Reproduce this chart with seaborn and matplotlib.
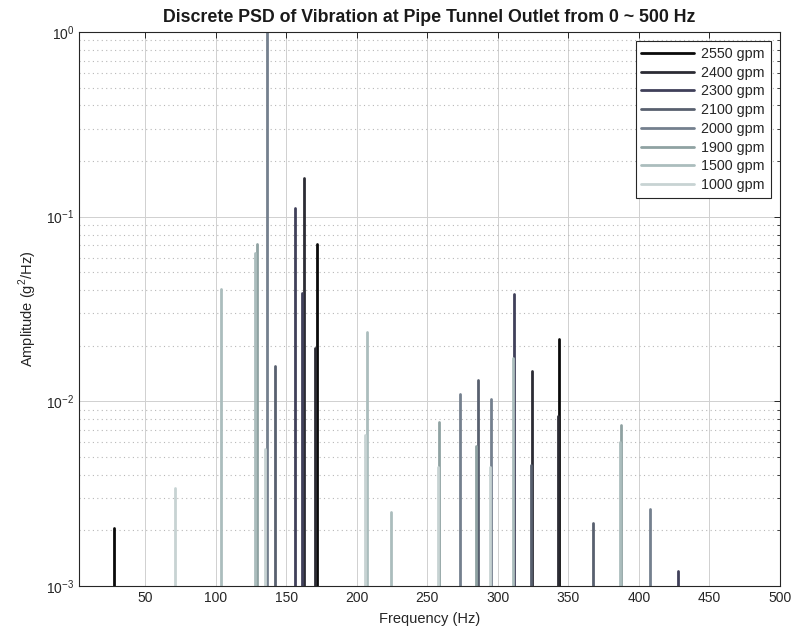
import numpy as np
import pandas as pd
import matplotlib
matplotlib.use("Agg")
import matplotlib.pyplot as plt
import seaborn as sns
from matplotlib.ticker import LogLocator, NullFormatter, MultipleLocator

# ---- data -------------------------------------------------------------
series_labels = ["2550 gpm", "2400 gpm", "2300 gpm", "2100 gpm",
                 "2000 gpm", "1900 gpm", "1500 gpm", "1000 gpm"]

freq_2550 = [28.0, 171.8, 343.5]
amp_2550 = [0.00207, 0.0711, 0.0217]

freq_2400 = [162.3, 170.6, 324.1, 342.5]
amp_2400 = [0.161, 0.0195, 0.0146, 0.0083]

freq_2300 = [155.8, 161.0, 311.7, 427.8]
amp_2300 = [0.112, 0.0388, 0.038, 0.0012]

freq_2100 = [142.3, 285.7, 323.2, 367.7]
amp_2100 = [0.0156, 0.0131, 0.0045, 0.0022]

freq_2000 = [136.5, 272.8, 295.4, 408.0]
amp_2000 = [1.0, 0.0109, 0.0103, 0.0026]

freq_1900 = [129.4, 258.2, 387.5, 284.8]
amp_1900 = [0.071, 0.0077, 0.0074, 0.0057]

freq_1500 = [103.5, 128.0, 207.0, 224.5, 310.8, 386.5]
amp_1500 = [0.0405, 0.0636, 0.0236, 0.00253, 0.0171, 0.006]

freq_1000 = [71.0, 135.0, 206.0, 257.4, 294.5]
amp_1000 = [0.0034, 0.0055, 0.0066, 0.0044, 0.0044]

series_colors = ["#0a0a0a", "#2c2c34", "#40405a", "#58606f",
                 "#74808e", "#8fa2a2", "#abbdbd", "#c7d3d3"]

freqs = [freq_2550, freq_2400, freq_2300, freq_2100,
         freq_2000, freq_1900, freq_1500, freq_1000]
amps = [amp_2550, amp_2400, amp_2300, amp_2100,
        amp_2000, amp_1900, amp_1500, amp_1000]

y_min, y_max = 1e-3, 1.0
x_min, x_max = 3, 500

# long-form table: each peak is a vertical segment from the axis floor
rows = []
pid = 0
for lab, fs, aa in zip(series_labels, freqs, amps):
    for f, a in zip(fs, aa):
        rows.append({"series": lab, "freq": f, "amp": y_min, "peak": pid})
        rows.append({"series": lab, "freq": f, "amp": a, "peak": pid})
        pid += 1
df = pd.DataFrame(rows)

# ---- figure -----------------------------------------------------------
sns.set_style("white")
plt.rcParams["font.family"] = ["Liberation Sans", "DejaVu Sans"]
plt.rcParams["mathtext.fontset"] = "custom"
plt.rcParams["mathtext.rm"] = "Liberation Sans"

fig = plt.figure(figsize=(7.99, 6.44), dpi=100)
ax = fig.add_axes([79 / 799, 1 - 586 / 644, (780 - 79) / 799, (586 - 32) / 644])
ax.set_yscale("log")

sns.lineplot(data=df, x="freq", y="amp", hue="series", hue_order=series_labels,
             units="peak", estimator=None, sort=False, palette=series_colors,
             linewidth=2.0, ax=ax)

ax.set_xlim(x_min, x_max)
ax.set_ylim(y_min, y_max)
ax.xaxis.set_major_locator(MultipleLocator(50))
ax.yaxis.set_major_locator(LogLocator(base=10, numticks=10))
ax.yaxis.set_minor_locator(LogLocator(base=10, subs=np.arange(2, 10), numticks=20))
ax.yaxis.set_minor_formatter(NullFormatter())

ax.grid(True, which="major", axis="both", color="#d0d0d0", linewidth=0.7, linestyle="-")
ax.grid(True, which="minor", axis="y", color="#b8b8b8", linewidth=0.8, linestyle=(0, (1, 3)))
ax.set_axisbelow(True)

ax.tick_params(which="both", direction="in", top=True, right=True,
               colors="#262626", labelsize=10, labelcolor="#262626")
ax.tick_params(which="major", length=4.5, width=0.7)
ax.tick_params(which="minor", length=2.5, width=0.6)
for s in ax.spines.values():
    s.set_color("#262626")
    s.set_linewidth(0.8)

ax.set_xlabel("Frequency (Hz)", fontsize=10.5, color="#262626", labelpad=5)
ax.set_ylabel("Amplitude (g$^2$/Hz)", fontsize=10.5, color="#262626", labelpad=5)
ax.set_title("Discrete PSD of Vibration at Pipe Tunnel Outlet from 0 ~ 500 Hz",
             fontsize=12.8, fontweight="bold", color="#1a1a1a", pad=7)

leg = ax.legend(loc="upper right", fontsize=10.3, frameon=True, fancybox=False,
                edgecolor="#262626", framealpha=1, handlelength=3.7,
                labelspacing=0.33, borderpad=0.4, handletextpad=0.5,
                borderaxespad=0.65)
leg.get_frame().set_linewidth(0.8)
for line in leg.get_lines():
    line.set_linewidth(2.0)

fig.savefig("out.png", dpi=100)
